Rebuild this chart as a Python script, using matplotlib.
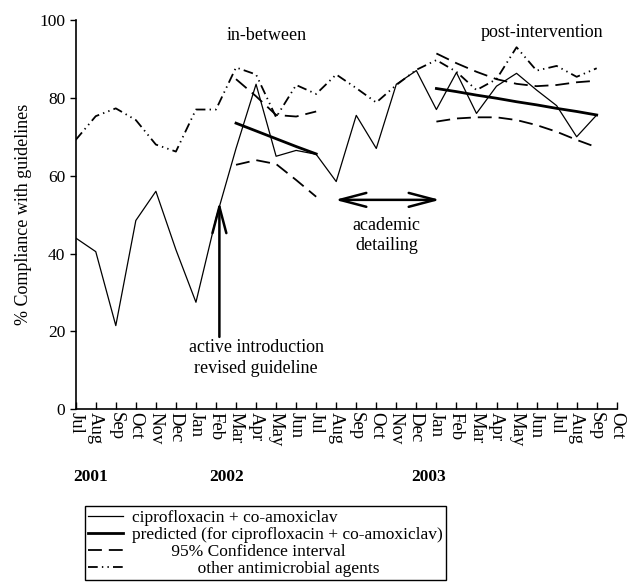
import numpy as np
import matplotlib
matplotlib.use("Agg")
import matplotlib.pyplot as plt
from matplotlib.transforms import blended_transform_factory

plt.rcParams['font.family'] = ['Liberation Serif', 'DejaVu Serif']
plt.rcParams['lines.scale_dashes'] = False

# month tick labels, Jul 2001 .. Oct 2003
months = ['Jul', 'Aug', 'Sep', 'Oct', 'Nov', 'Dec', 'Jan', 'Feb', 'Mar', 'Apr',
          'May', 'Jun', 'Jul', 'Aug', 'Sep', 'Oct', 'Nov', 'Dec', 'Jan', 'Feb',
          'Mar', 'Apr', 'May', 'Jun', 'Jul', 'Aug', 'Sep', 'Oct']
years = ['2001', '2002', '2003']
year_pos = [0.76, 7.53, 17.63]

# % compliance, Jul 2001 .. Sep 2003
cipro = [44, 40.5, 21.5, 48.5, 56, 41, 27.5, 49, 67, 83.5, 65, 66.5, 65.5, 58.5,
         75.5, 67, 83.5, 87, 77, 86.5, 76, 83, 86.3, 82, 78, 70, 75.6]
other = [69.2, 75.3, 77.3, 74.3, 68, 66.2, 77, 77, 87.8, 86, 75, 83.3, 81, 86,
         82.5, 78.8, 83.3, 87.2, 89.7, 86.7, 82, 84.8, 93, 87, 88.2, 85.4, 87.6]

# in-between period (Mar 2002 .. Jul 2002)
idx1 = [8, 9, 10, 11, 12]
pred1 = [73.5, 71.5, 69.5, 67.5, 65.6]
ci1_up = [84.8, 80.4, 75.6, 75.2, 76.5]
ci1_lo = [62.8, 64.0, 63.0, 58.9, 54.6]

# post-intervention period (Jan 2003 .. Sep 2003)
idx2 = [18, 19, 20, 21, 22, 23, 24, 25, 26]
pred2 = [82.4, 81.6, 80.7, 79.9, 79.0, 78.2, 77.3, 76.5, 75.6]
ci2_up = [91.4, 88.9, 86.7, 84.8, 83.6, 83.0, 83.3, 84.0, 84.4]
ci2_lo = [73.9, 74.7, 75.0, 75.0, 74.3, 73.0, 71.3, 69.2, 67.3]

fs = 13
fig = plt.figure(figsize=(6.31, 5.86), dpi=100)
ax = fig.add_axes([0.12, 0.3015, 0.8574, 0.6644])

x = np.arange(len(cipro))
dash = (0, (10, 5))
dashdot = (0, (7, 3, 1, 3, 1, 3))

ax.plot(x, cipro, color='black', lw=0.9,
        label='ciprofloxacin + co-amoxiclav')
ax.plot(idx1, pred1, color='black', lw=2.0,
        label='predicted (for ciprofloxacin + co-amoxiclav)')
ax.plot(idx2, pred2, color='black', lw=2.0)
ax.plot(idx1, ci1_up, color='black', lw=1.3, linestyle=dash,
        label='         95% Confidence interval')
ax.plot(idx1, ci1_lo, color='black', lw=1.3, linestyle=dash)
ax.plot(idx2, ci2_up, color='black', lw=1.3, linestyle=dash)
ax.plot(idx2, ci2_lo, color='black', lw=1.3, linestyle=dash)
ax.plot(x, other, color='black', lw=1.3, linestyle=dashdot,
        label='               other antimicrobial agents')

ax.set_xlim(0, 27)
ax.set_ylim(0, 100)
ax.set_xticks(np.arange(len(months)))
ax.set_xticklabels(months, rotation=-90, fontsize=13.5)
ax.set_yticks([0, 20, 40, 60, 80, 100])
ax.tick_params(axis='x', direction='in', length=5, width=1, pad=2)
ax.tick_params(axis='y', direction='out', length=4, width=1, labelsize=12.5)
for s in ['top', 'right']:
    ax.spines[s].set_visible(False)
for s in ['left', 'bottom']:
    ax.spines[s].set_linewidth(1.2)
ax.set_ylabel('% Compliance with guidelines', fontsize=13, labelpad=5)

# annotations
ax.text(9.53, 96.1, 'in-between', ha='center', va='center', fontsize=fs)
ax.text(23.27, 96.9, 'post-intervention', ha='center', va='center', fontsize=fs)
ax.annotate('', xy=(7.17, 53.3), xytext=(7.17, 18.6),
            arrowprops=dict(arrowstyle='->,head_length=19,head_width=5',
                            mutation_scale=1, lw=1.8, color='black',
                            shrinkA=0, shrinkB=0))
ax.text(9.0, 13.2, 'active introduction\nrevised guideline', ha='center',
        va='center', fontsize=fs, linespacing=1.25)
ax.annotate('', xy=(12.94, 53.8), xytext=(18.18, 53.8),
            arrowprops=dict(arrowstyle='<->,head_length=19,head_width=5',
                            mutation_scale=1, lw=1.8, color='black',
                            shrinkA=0, shrinkB=0))
ax.text(15.52, 44.6, 'academic\ndetailing', ha='center', va='center',
        fontsize=fs, linespacing=1.25)

trans = blended_transform_factory(ax.transData, ax.transAxes)
for yr, xp in zip(years, year_pos):
    ax.text(xp, -0.174, yr, transform=trans, ha='center', va='center',
            fontsize=12.5, fontweight='bold')

leg = ax.legend(loc='upper left', bbox_to_anchor=(0.1347, 0.1365),
                bbox_transform=fig.transFigure, fontsize=12.5, frameon=True,
                fancybox=False, edgecolor='black', framealpha=1,
                handlelength=2.0, handletextpad=0.5, borderpad=0.2,
                labelspacing=0.05, borderaxespad=0)
leg.get_frame().set_linewidth(1.0)

fig.savefig('out.png', dpi=100)
